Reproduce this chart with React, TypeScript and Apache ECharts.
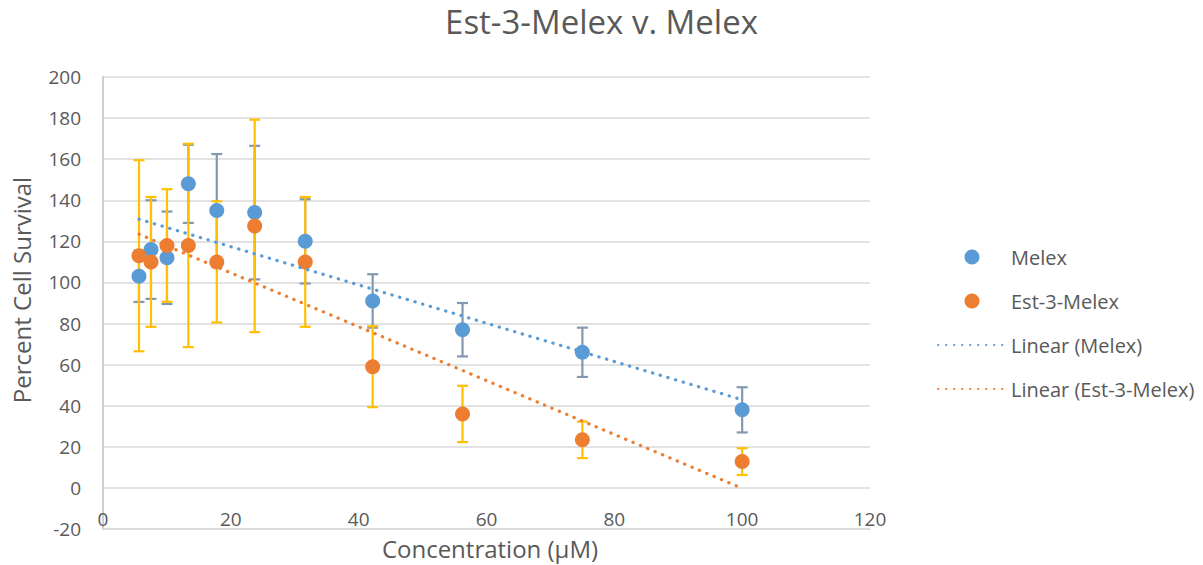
import React, { useEffect, useRef } from "react";
import * as echarts from "echarts";

const concentrations = [5.63, 7.51, 10.01, 13.35, 17.8, 23.73, 31.64, 42.19, 56.25, 75, 100];
const melexValues = [103, 116, 112, 148, 135, 134, 120, 91, 77, 66, 38];
const melexErrors = [12.5, 24, 22.5, 19, 27.5, 32.5, 20.5, 13, 13, 12, 11];
const estValues = [113, 110, 118, 118, 110, 127.5, 110, 59, 36, 23.4, 12.8];
const estErrors = [46.5, 31.6, 27.4, 49.5, 29.5, 51.7, 31.6, 19.7, 13.7, 8.9, 6.5];
const melexTrend = [[5.63, 130.8], [100, 42.9]];
const estTrend = [[5.63, 123.5], [100, -0.2]];

const TEXT = "#595959";
const FONT = "'Open Sans', sans-serif";
const BLUE = "#5B9BD5";
const ORANGE = "#ED7D31";
const GRAYBAR = "#8497B0";
const YELLOW = "#FFC000";

function errorSeries(name: string, values: number[], errors: number[], color: string, z: number) {
  return {
    name,
    type: "custom",
    z,
    silent: true,
    encode: { x: 0, y: [1, 2] },
    data: concentrations.map((x, i) => [x, values[i] - errors[i], values[i] + errors[i]]),
    renderItem: (params: any, api: any) => {
      const x = api.value(0);
      const lo = api.coord([x, api.value(1)]);
      const hi = api.coord([x, api.value(2)]);
      const hw = 5.5;
      const style = { stroke: color, lineWidth: 2.2 };
      return {
        type: "group",
        children: [
          { type: "line", shape: { x1: lo[0], y1: lo[1], x2: hi[0], y2: hi[1] }, style },
          { type: "line", shape: { x1: lo[0] - hw, y1: lo[1], x2: lo[0] + hw, y2: lo[1] }, style },
          { type: "line", shape: { x1: hi[0] - hw, y1: hi[1], x2: hi[0] + hw, y2: hi[1] }, style },
        ],
      };
    },
  };
}

export default function App() {
  const ref = useRef<HTMLDivElement>(null);
  useEffect(() => {
    if (!ref.current) return;
    const chart = echarts.init(ref.current, null, { renderer: "svg" });
    const dotted = { width: 3.2, type: [0.3, 7.7], cap: "round" };
    chart.setOption({
      animation: false,
      backgroundColor: "#ffffff",
      title: {
        text: "Est-3-Melex v. Melex",
        left: "center",
        top: 0,
        textStyle: { fontFamily: FONT, fontSize: 33, fontWeight: "normal", color: TEXT },
      },
      grid: { left: 103, top: 77, width: 767, height: 452 },
      legend: {
        orient: "vertical",
        left: 932,
        top: 242,
        itemWidth: 68,
        itemHeight: 15,
        itemGap: 24,
        textStyle: { fontFamily: FONT, fontSize: 20, color: TEXT },
        data: [
          { name: "Melex", icon: "circle" },
          { name: "Est-3-Melex", icon: "circle" },
          { name: "Linear (Melex)", itemStyle: { opacity: 0 } },
          { name: "Linear (Est-3-Melex)", itemStyle: { opacity: 0 } },
        ],
      },
      xAxis: {
        type: "value",
        min: 0,
        max: 120,
        interval: 20,
        axisLine: { show: true, onZero: false, lineStyle: { color: "#D9D9D9", width: 1.5 } },
        axisTick: { show: false },
        splitLine: { show: false },
        axisLabel: { fontFamily: FONT, fontSize: 19, color: TEXT, margin: -20 },
      },
      yAxis: {
        type: "value",
        min: -20,
        max: 200,
        interval: 20,
        axisLine: { show: true, lineStyle: { color: "#BFBFBF", width: 1.5 } },
        axisTick: { show: false },
        splitLine: { show: true, lineStyle: { color: "#D9D9D9", width: 1.5 } },
        axisLabel: { fontFamily: FONT, fontSize: 19, color: TEXT, margin: 22 },
      },
      graphic: [
        {
          type: "text",
          x: 21,
          y: 290,
          rotation: Math.PI / 2,
          style: {
            text: "Percent Cell Survival",
            align: "center",
            verticalAlign: "middle",
            fontFamily: FONT,
            fontSize: 24,
            fill: TEXT,
          },
        },
        {
          type: "text",
          x: 490,
          y: 548,
          style: {
            text: "Concentration (μM)",
            align: "center",
            verticalAlign: "middle",
            fontFamily: FONT,
            fontSize: 24,
            fill: TEXT,
          },
        },
      ],
      series: [
        errorSeries("Melex error", melexValues, melexErrors, GRAYBAR, 2),
        errorSeries("Est-3-Melex error", estValues, estErrors, YELLOW, 3),
        {
          name: "Melex",
          type: "scatter",
          z: 4,
          symbol: "circle",
          symbolSize: 15,
          itemStyle: { color: BLUE, opacity: 1 },
          data: concentrations.map((x, i) => [x, melexValues[i]]),
        },
        {
          name: "Est-3-Melex",
          type: "scatter",
          z: 5,
          symbol: "circle",
          symbolSize: 15,
          itemStyle: { color: ORANGE, opacity: 1 },
          data: concentrations.map((x, i) => [x, estValues[i]]),
        },
        {
          name: "Linear (Melex)",
          type: "line",
          z: 6,
          symbol: "none",
          showSymbol: false,
          lineStyle: { ...dotted, color: BLUE },
          itemStyle: { color: BLUE },
          data: melexTrend,
        },
        {
          name: "Linear (Est-3-Melex)",
          type: "line",
          z: 7,
          symbol: "none",
          showSymbol: false,
          lineStyle: { ...dotted, color: ORANGE },
          itemStyle: { color: ORANGE },
          data: estTrend,
        },
      ],
    });
    return () => chart.dispose();
  }, []);
  return (
    <div
      ref={ref}
      style={{ position: "absolute", left: 0, top: 0, width: 1203, height: 565 }}
    />
  );
}
